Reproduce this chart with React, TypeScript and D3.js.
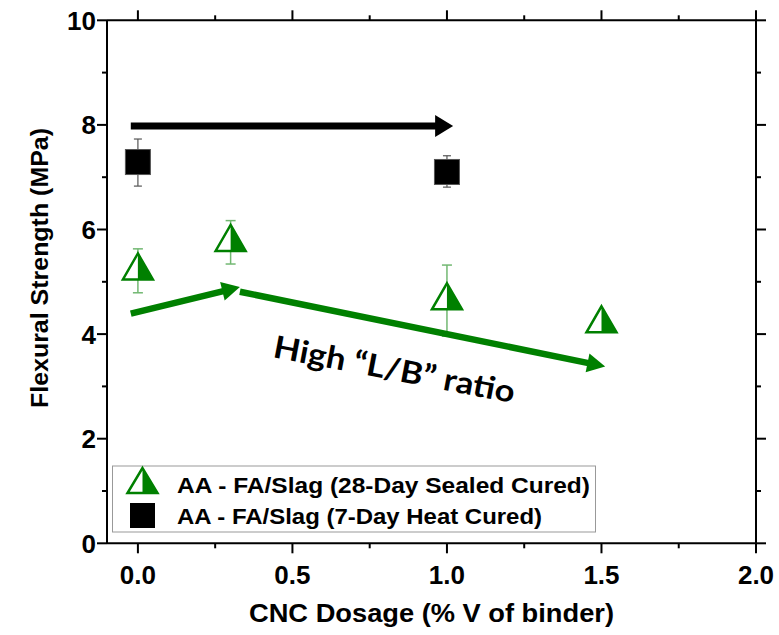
import React from "react";
import * as d3 from "d3";

const W = 779;
const H = 635;

// Data
const sealedX = [0.0, 0.3, 1.0, 1.5];
const sealedY = [5.21, 5.755, 4.64, 4.2];
const sealedErr = [0.42, 0.415, 0.68, 0.0];

const heatX = [0.0, 1.0];
const heatY = [7.29, 7.1];
const heatErrUp = [0.44, 0.31];
const heatErrDown = [0.46, 0.29];

const xTicks = [0, 0.5, 1.0, 1.5, 2.0];
const xMinor = [0.25, 0.75, 1.25, 1.75];
const yTicks = [0, 2, 4, 6, 8, 10];
const yMinor = [1, 3, 5, 7, 9];

const legendLabels = [
  "AA - FA/Slag (28-Day Sealed Cured)",
  "AA - FA/Slag (7-Day Heat Cured)",
];
const legendWidths = [413, 365];

// annotation arrows in data units: [x1, y1, x2, y2]
const blackArrow = [-0.023, 7.98, 1.02, 7.98];
const greenArrows = [
  [-0.023, 4.39, 0.33, 4.9],
  [0.33, 4.81, 1.512, 3.38],
];
const annotationText = "High \u201CL/B\u201D ratio";
const annotationPos = [0.434, 3.56];

const GREEN = "#008000";
const ERR_GREEN = "#72b872";
const FONT = "'Liberation Sans', Arial, sans-serif";

function Arrow({ x1, y1, x2, y2, color, width, headLen, headW }: any) {
  const ang = Math.atan2(y2 - y1, x2 - x1);
  const ux = Math.cos(ang), uy = Math.sin(ang);
  const bx = x2 - ux * headLen, by = y2 - uy * headLen;
  const px = -uy, py = ux;
  const pts = [
    [x2, y2],
    [bx + (px * headW) / 2, by + (py * headW) / 2],
    [bx - (px * headW) / 2, by - (py * headW) / 2],
  ];
  return (
    <g>
      <line x1={x1} y1={y1} x2={bx + ux} y2={by + uy} stroke={color} strokeWidth={width} />
      <polygon points={pts.map((p) => p.join(",")).join(" ")} fill={color} />
    </g>
  );
}

function Triangle({ cx, cy, w = 30, h = 26 }: any) {
  const top = cy - (2 * h) / 3, bot = cy + h / 3;
  return (
    <g>
      <polygon
        points={`${cx},${top} ${cx + w / 2},${bot} ${cx - w / 2},${bot}`}
        fill="white"
        stroke={GREEN}
        strokeWidth={2.5}
        strokeLinejoin="miter"
      />
      <polygon points={`${cx},${top} ${cx + w / 2},${bot} ${cx},${bot}`} fill={GREEN} />
    </g>
  );
}

export default function App() {
  const left = 107, right = 756, top = 20.3, bottom = 543.3;
  const x = d3.scaleLinear().domain([-0.1, 2.0]).range([left, right]);
  const y = d3.scaleLinear().domain([0, 10]).range([bottom, top]);
  const sq = 25;
  const tickFont = 26;

  return (
    <svg width={W} height={H} style={{ position: "absolute", left: 0, top: 0, background: "white" }}>
      <rect x={0} y={0} width={W} height={H} fill="white" />

      {/* error bars: heat cured */}
      {heatX.map((v, i) => {
        const cx = x(v);
        const y1 = y(heatY[i] + heatErrUp[i]);
        const y2 = y(heatY[i] - heatErrDown[i]);
        return (
          <g key={"he" + i} stroke="#555" strokeWidth={1.2}>
            <line x1={cx} x2={cx} y1={y1} y2={y2} />
            <line x1={cx - 4} x2={cx + 4} y1={y1} y2={y1} />
            <line x1={cx - 4} x2={cx + 4} y1={y2} y2={y2} />
          </g>
        );
      })}
      {/* error bars: sealed */}
      {sealedX.map((v, i) => {
        if (sealedErr[i] <= 0) return null;
        const cx = x(v);
        const y1 = y(sealedY[i] + sealedErr[i]);
        const y2 = y(sealedY[i] - sealedErr[i]);
        return (
          <g key={"se" + i} stroke={ERR_GREEN} strokeWidth={1.5}>
            <line x1={cx} x2={cx} y1={y1} y2={y2} />
            <line x1={cx - 5} x2={cx + 5} y1={y1} y2={y1} />
            <line x1={cx - 5} x2={cx + 5} y1={y2} y2={y2} />
          </g>
        );
      })}

      {/* squares */}
      {heatX.map((v, i) => (
        <rect
          key={"sq" + i}
          x={x(v) - sq / 2}
          y={y(heatY[i]) - sq / 2}
          width={sq}
          height={sq}
          fill="black"
          stroke="#555"
          strokeWidth={1}
        />
      ))}
      {/* triangles */}
      {sealedX.map((v, i) => (
        <Triangle key={"tr" + i} cx={x(v)} cy={y(sealedY[i])} />
      ))}

      {/* annotations */}
      <Arrow
        x1={x(blackArrow[0])}
        y1={y(blackArrow[1])}
        x2={x(blackArrow[2])}
        y2={y(blackArrow[3])}
        color="black"
        width={7}
        headLen={18}
        headW={22}
      />
      {greenArrows.map((a, i) => (
        <Arrow
          key={"ga" + i}
          x1={x(a[0])}
          y1={y(a[1])}
          x2={x(a[2])}
          y2={y(a[3])}
          color={GREEN}
          width={6.5}
          headLen={18}
          headW={19}
        />
      ))}
      <text
        transform={`translate(${x(annotationPos[0])},${y(annotationPos[1])}) rotate(10.8)`}
        fontFamily="Lato, 'Open Sans', sans-serif"
        fontWeight="bold"
        fontSize={31}
        textLength={245}
        lengthAdjust="spacingAndGlyphs"
        fill="black"
      >
        {annotationText}
      </text>

      {/* legend */}
      <rect x={112.5} y={466} width={483} height={66} fill="white" stroke="#999" strokeWidth={1} />
      <Triangle cx={142.5} cy={484.7} w={30} h={25} />
      <rect x={130} y={503} width={25} height={25} fill="black" />
      {legendLabels.map((t, i) => (
        <text
          key={"lg" + i}
          x={177}
          y={493 + i * 30.6}
          fontFamily={FONT}
          fontWeight="bold"
          fontSize={22.5}
          textLength={legendWidths[i]}
          lengthAdjust="spacingAndGlyphs"
          fill="black"
        >
          {t}
        </text>
      ))}

      {/* axes frame */}
      <g stroke="black" strokeWidth={2} fill="none">
        <line x1={left} x2={left} y1={top} y2={bottom} />
        <line x1={right} x2={right} y1={top} y2={bottom} />
        <line x1={left} x2={right} y1={top} y2={top} />
        <line x1={left} x2={right} y1={bottom} y2={bottom} />
        {xTicks.map((t) => (
          <g key={"xt" + t}>
            <line x1={x(t)} x2={x(t)} y1={bottom} y2={bottom + 10} />
            <line x1={x(t)} x2={x(t)} y1={top} y2={top - 10} />
          </g>
        ))}
        {xMinor.map((t) => (
          <g key={"xm" + t}>
            <line x1={x(t)} x2={x(t)} y1={bottom} y2={bottom + 5} />
            <line x1={x(t)} x2={x(t)} y1={top} y2={top - 5} />
          </g>
        ))}
        {yTicks.map((t) => (
          <g key={"yt" + t}>
            <line x1={left} x2={left - 10} y1={y(t)} y2={y(t)} />
            <line x1={right} x2={right + 10} y1={y(t)} y2={y(t)} />
          </g>
        ))}
        {yMinor.map((t) => (
          <g key={"ym" + t}>
            <line x1={left} x2={left - 5} y1={y(t)} y2={y(t)} />
            <line x1={right} x2={right + 5} y1={y(t)} y2={y(t)} />
          </g>
        ))}
      </g>

      {/* tick labels */}
      {xTicks.map((t) => (
        <text
          key={"xl" + t}
          x={x(t)}
          y={584}
          textAnchor="middle"
          fontFamily={FONT}
          fontWeight="bold"
          fontSize={tickFont}
        >
          {d3.format(".1f")(t)}
        </text>
      ))}
      {yTicks.map((t) => (
        <text
          key={"yl" + t}
          x={96}
          y={y(t) + 9.5}
          textAnchor="end"
          fontFamily={FONT}
          fontWeight="bold"
          fontSize={tickFont}
        >
          {t}
        </text>
      ))}

      {/* axis titles */}
      <text
        x={(left + right) / 2}
        y={622}
        textAnchor="middle"
        fontFamily="'Liberation Sans Narrow', 'Arial Narrow', 'Liberation Sans', sans-serif"
        fontWeight="bold"
        fontSize={26}
        textLength={365}
        lengthAdjust="spacingAndGlyphs"
      >
        CNC Dosage (% V of binder)
      </text>
      <text
        transform={`translate(48,268) rotate(-90)`}
        textAnchor="middle"
        fontFamily={FONT}
        fontWeight="bold"
        fontSize={24}
        textLength={280}
        lengthAdjust="spacingAndGlyphs"
      >
        Flexural Strength (MPa)
      </text>
    </svg>
  );
}
